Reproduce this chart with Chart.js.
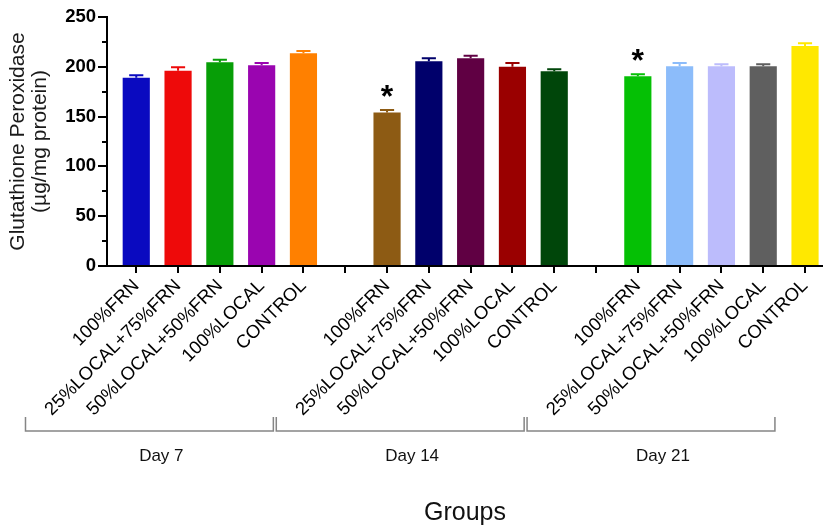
<!DOCTYPE html>
<html>
<head>
<meta charset="utf-8">
<script src="https://cdn.jsdelivr.net/npm/chart.js@4"></script>
<style>
  html, body { margin: 0; padding: 0; background: #fff; }
  #wrap { width: 823px; height: 529px; position: relative; }
</style>
</head>
<body>
<div id="wrap"><canvas id="gpx" width="823" height="529"></canvas></div>
<script>
// Treatments measured on each sampling day
const treatments = ['100%FRN', '25%LOCAL+75%FRN', '50%LOCAL+50%FRN', '100%LOCAL', 'CONTROL'];
const dayNames = ['Day 7', 'Day 14', 'Day 21'];

// Mean glutathione peroxidase (µg/mg protein) and SEM per day
const day7Means  = [189, 196, 204.5, 201.5, 213.5];
const day7Sem    = [2.5, 3.5, 2.5, 2.3, 2.4];
const day14Means = [154, 205.5, 208.5, 200, 195.5];
const day14Sem   = [2.7, 3, 2.5, 3.7, 2];
const day21Means = [190.5, 200.5, 200.5, 200.5, 221];
const day21Sem   = [2, 3.3, 2, 2, 2.7];

// Significance markers (*) per day
const day7Sig  = [false, false, false, false, false];
const day14Sig = [true, false, false, false, false];
const day21Sig = [true, false, false, false, false];

// Bar colours per day
const day7Colors  = ['#0a0ac0', '#ee0a0a', '#079e07', '#9a05b0', '#ff8000'];
const day14Colors = ['#8d5b14', '#00006b', '#600043', '#9a0000', '#00460a'];
const day21Colors = ['#05c005', '#8cbcfa', '#bcbcfc', '#5f5f5f', '#ffe800'];

// Y axis ticks
const yMajorTicks = [0, 50, 100, 150, 200, 250];
const yMinorTicks = [25, 75, 125, 175, 225];

// One slot between days is left empty
const slotsPerDay = treatments.length + 1;
const allMeans  = [day7Means, day14Means, day21Means];
const allSem    = [day7Sem, day14Sem, day21Sem];
const allSig    = [day7Sig, day14Sig, day21Sig];
const allColors = [day7Colors, day14Colors, day21Colors];

const points = [], sems = [], sigs = [], colors = [];
allMeans.forEach((means, d) => {
  means.forEach((m, t) => {
    points.push({ x: d * slotsPerDay + t, y: m });
    sems.push(allSem[d][t]);
    sigs.push(allSig[d][t]);
    colors.push(allColors[d][t]);
  });
});

const slotCount = dayNames.length * slotsPerDay - 1;
const slotLabels = [];
for (let i = 0; i < slotCount; i++) {
  const t = i % slotsPerDay;
  slotLabels.push(t < treatments.length ? treatments[t] : '');
}

const FONT = '"Liberation Sans", Arial, Helvetica, sans-serif';

// Error bars, significance stars, minor y ticks and day brackets
const extras = {
  id: 'extras',
  afterDatasetsDraw(chart) {
    const ctx = chart.ctx;
    const ys = chart.scales.y;
    const xs = chart.scales.x;
    const meta = chart.getDatasetMeta(0);
    ctx.save();
    meta.data.forEach((bar, i) => {
      const half = bar.width * 0.26;
      const top = ys.getPixelForValue(points[i].y + sems[i]);
      const base = ys.getPixelForValue(points[i].y);
      ctx.strokeStyle = colors[i];
      ctx.lineWidth = 2;
      ctx.beginPath();
      ctx.moveTo(bar.x, base);
      ctx.lineTo(bar.x, top);
      ctx.moveTo(bar.x - half, top);
      ctx.lineTo(bar.x + half, top);
      ctx.stroke();
      if (sigs[i]) {
        ctx.fillStyle = '#000';
        ctx.font = 'bold 32px ' + FONT;
        ctx.textAlign = 'center';
        ctx.textBaseline = 'alphabetic';
        ctx.fillText('*', bar.x, top - 21 + 18);
      }
    });

    // minor ticks on the y axis
    const left = chart.chartArea.left;
    ctx.strokeStyle = '#000';
    ctx.lineWidth = 2;
    ctx.beginPath();
    yMinorTicks.forEach(v => {
      const p = Math.round(ys.getPixelForValue(v));
      ctx.moveTo(left - 5, p);
      ctx.lineTo(left, p);
    });
    ctx.stroke();

    // day brackets under the treatment labels
    const b = chart.chartArea.bottom;
    ctx.strokeStyle = '#858585';
    ctx.lineWidth = 1.5;
    ctx.fillStyle = '#111';
    ctx.font = '17px ' + FONT;
    ctx.textAlign = 'center';
    ctx.textBaseline = 'middle';
    dayNames.forEach((name, d) => {
      const start = d * slotsPerDay;
      const end = start + treatments.length - 1;
      const x0 = xs.getPixelForValue(start - 2.65);
      const x1 = xs.getPixelForValue(end - 0.72);
      ctx.beginPath();
      ctx.moveTo(x0, b + 151);
      ctx.lineTo(x0, b + 165);
      ctx.lineTo(x1, b + 165);
      ctx.lineTo(x1, b + 151);
      ctx.stroke();
      ctx.fillText(name, xs.getPixelForValue(start + 0.6), b + 190);
    });
    ctx.restore();
  }
};

new Chart(document.getElementById('gpx'), {
  type: 'bar',
  data: {
    datasets: [{
      data: points,
      backgroundColor: colors,
      borderWidth: 0,
      barPercentage: 0.65,
      categoryPercentage: 1
    }]
  },
  options: {
    responsive: false,
    animation: false,
    events: [],
    layout: { padding: { top: 17, right: 0, bottom: 0, left: 0 } },
    plugins: { legend: { display: false }, tooltip: { enabled: false } },
    scales: {
      x: {
        type: 'linear',
        offset: false,
        min: -0.7,
        max: slotCount - 1 + 0.43,
        afterBuildTicks(scale) {
          scale.ticks = slotLabels.map((_, i) => ({ value: i }));
        },
        afterFit(scale) { scale.height = 263; },
        ticks: {
          autoSkip: false,
          minRotation: 45,
          maxRotation: 45,
          padding: 2,
          color: '#000',
          font: { family: FONT, size: 18.5 },
          callback: (v, i) => slotLabels[i]
        },
        grid: { display: true, offset: false, drawOnChartArea: false, tickLength: 7, color: '#000', lineWidth: 2 },
        border: { display: true, color: '#000', width: 2 },
        title: {
          display: true,
          text: 'Groups',
          color: '#111',
          font: { family: FONT, size: 25 },
          padding: { top: 0, bottom: 1 }
        }
      },
      y: {
        min: 0,
        max: 250,
        afterBuildTicks(scale) {
          scale.ticks = yMajorTicks.map(v => ({ value: v }));
        },
        afterFit(scale) { scale.width = 107; },
        ticks: {
          color: '#000',
          padding: 2,
          font: { family: FONT, size: 18.5, weight: 'bold' }
        },
        grid: { display: true, drawOnChartArea: false, tickLength: 9, color: '#000', lineWidth: 2 },
        border: { display: true, color: '#000', width: 2 },
        title: {
          display: true,
          text: ['Glutathione Peroxidase', '(µg/mg protein)'],
          color: '#1a1a1a',
          font: { family: FONT, size: 21, lineHeight: 1.05 },
          padding: { top: 7, bottom: 0 }
        }
      }
    }
  },
  plugins: [extras]
});
</script>
</body>
</html>
